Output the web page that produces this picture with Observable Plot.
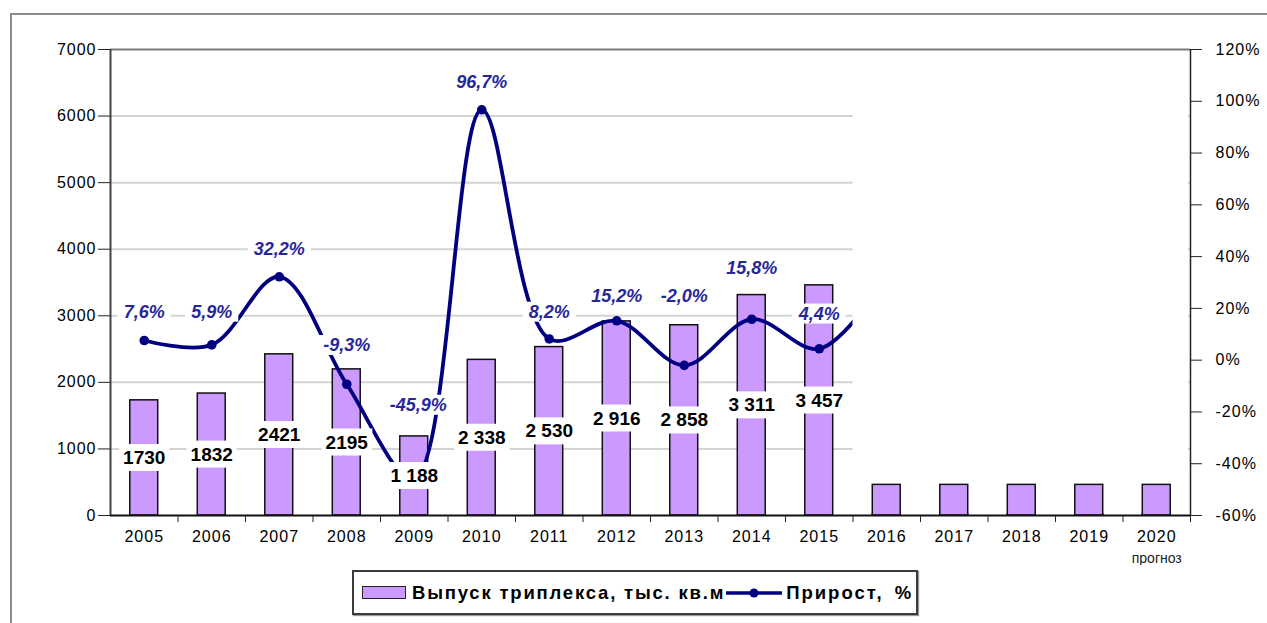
<!DOCTYPE html>
<html>
<head>
<meta charset="utf-8">
<script src="https://cdn.jsdelivr.net/npm/d3@7"></script>
<script src="https://cdn.jsdelivr.net/npm/@observablehq/plot@0.6"></script>
<style>
  body { margin:0; width:1267px; height:623px; overflow:hidden; position:relative; background:#fff;
         font-family:"Liberation Sans", Arial, sans-serif; }
  #frame { position:absolute; left:10px; top:13px; width:1300px; height:700px; border:2px solid #8c8c8c; pointer-events:none; }
  #legend { position:absolute; left:352px; top:570px; width:562px; height:41px; border:2px solid #3a3a3a;
            box-shadow: 1px 1px 1px #999; display:flex; align-items:center; font-weight:bold; font-size:18.5px; color:#000; background:#fff; white-space:nowrap; }
  #legend .sw { width:42px; height:11px; background:#cc99ff; border:1.5px solid #222; margin-left:8px; margin-right:6px; }
  #legend .tx { letter-spacing:1.8px; }
  #legend .tx2 { letter-spacing:2px; word-spacing:4px; }
  g[aria-label="y-axis tick label"] text, g[aria-label="x-axis tick label"] text { letter-spacing: 1px; }
</style>
</head>
<body>
<div id="chart"></div>
<div id="frame"></div>
<div id="legend">
  <span class="sw"></span><span class="tx">Выпуск триплекса, тыс. кв.м</span>
  <svg width="58" height="14" style="margin:0 3px 0 0"><line x1="1" y1="7" x2="57" y2="7" stroke="#000080" stroke-width="3.5"/><circle cx="29" cy="7" r="4.5" fill="#000080"/></svg>
  <span class="tx2">Прирост, %</span>
</div>
<script>
// ---- data ----
const years = [2005, 2006, 2007, 2008, 2009, 2010, 2011, 2012, 2013, 2014, 2015, 2016, 2017, 2018, 2019, 2020];
const output = [1730, 1832, 2421, 2195, 1188, 2338, 2530, 2916, 2858, 3311, 3457, 460, 460, 460, 460, 460];
const outputLabels = ["1730", "1832", "2421", "2195", "1 188", "2 338", "2 530", "2 916", "2 858", "3 311", "3 457", "", "", "", "", ""];
const growthYears = [2005, 2006, 2007, 2008, 2009, 2010, 2011, 2012, 2013, 2014, 2015, 2016];
const growth = [7.6, 5.9, 32.2, -9.3, -45.9, 96.7, 8.2, 15.2, -2.0, 15.8, 4.4, 32];
const growthLabels = ["7,6%", "5,9%", "32,2%", "-9,3%", "-45,9%", "96,7%", "8,2%", "15,2%", "-2,0%", "15,8%", "4,4%", ""];
const leftTicks = [0, 1000, 2000, 3000, 4000, 5000, 6000, 7000];
const pctTicks = [-60, -40, -20, 0, 20, 40, 60, 80, 100, 120];
const lastActualYear = 2015;
const forecastNote = "прогноз";

// ---- derived ----
const leftMax = 7000, pctMin = -60, pctMax = 120;
const toLeft = p => (p - pctMin) / (pctMax - pctMin) * leftMax;
const xMin = years[0] - 0.5, xMax = years[years.length - 1] + 0.5;
const bars = years.map((y, i) => ({year: y, value: output[i], label: outputLabels[i]}));
const pts = growthYears.map((y, i) => ({year: y, g: growth[i], label: growthLabels[i]}));
const boundaries = years.map(y => y + 0.5);
// label placement (pixels above the point), as in the original
const pctDy = {2005: -28, 2006: -33, 2007: -28, 2008: -39, 2009: -74, 2010: -28, 2011: -27, 2012: -25, 2013: -69, 2014: -51, 2015: -35, 2016: 0};
const pctDx = {2009: 4};

const navy = "#000080";
const barFill = "#cc99ff";

const chart = Plot.plot({
  width: 1267,
  height: 565,
  marginLeft: 110,
  marginRight: 77,
  marginTop: 49,
  marginBottom: 50,
  style: {fontFamily: "Liberation Sans, Arial, sans-serif", fontSize: "16px", background: "transparent", color: "#000"},
  x: {type: "linear", domain: [xMin, xMax], axis: null},
  y: {domain: [0, leftMax], axis: null},
  marks: [
    Plot.ruleY(leftTicks.filter(t => t > 0 && t < leftMax), {x1: xMin, x2: xMax, stroke: "#d4d4d4", strokeWidth: 2}),
    Plot.rectY(bars, {x1: d => d.year - 0.207, x2: d => d.year + 0.207, y: "value", fill: barFill, stroke: "#111", strokeWidth: 1.5}),
    Plot.line(pts, {x: "year", y: d => toLeft(d.g), curve: "catmull-rom", stroke: navy, strokeWidth: 3.8}),
    Plot.dot(pts, {x: "year", y: d => toLeft(d.g), r: 4.8, fill: navy}),
    // blank area of the original (right part of the plot)
    Plot.rect([{x1: lastActualYear + 0.5, x2: xMax, y1: 0, y2: leftMax}], {x1: "x1", x2: "x2", y1: "y1", y2: "y2", fill: "white", insetTop: 3, insetBottom: 2, insetRight: 2}),
    Plot.rectY(bars.filter(d => d.year > lastActualYear), {x1: d => d.year - 0.207, x2: d => d.year + 0.207, y: "value", fill: barFill, stroke: "#111", strokeWidth: 1.5}),
    // frame lines
    Plot.ruleY([leftMax], {stroke: "#7a7a7a", strokeWidth: 2}),
    Plot.ruleX([xMin], {stroke: "#444", strokeWidth: 2}),
    Plot.ruleX([xMax], {stroke: "#222", strokeWidth: 1.5}),
    Plot.ruleY([0], {stroke: "#111", strokeWidth: 2}),
    // axes
    Plot.axisY(leftTicks, {anchor: "left", tickSize: 12, tickPadding: 2, tickFormat: d => String(d), fontSize: 16, stroke: "#222"}),
    Plot.axisY(pctTicks.map(toLeft), {anchor: "right", tickSize: 11, tickPadding: 14, tickFormat: (v) => Math.round(v / leftMax * (pctMax - pctMin) + pctMin) + "%", fontSize: 16, stroke: "#222"}),
    Plot.axisX(years, {tickSize: 0, tickPadding: 15, tickFormat: d => String(d), fontSize: 16}),
    Plot.axisX(boundaries, {tickSize: 7, tickFormat: () => "", stroke: "#222"}),
    Plot.text([forecastNote], {x: years[years.length - 1], y: 0, dy: 43, text: d => d, fontSize: 14, fill: "#222"}),
    // labels
    Plot.text(bars.filter(d => d.label), {x: "year", y: d => d.value / 2, text: "label", fontSize: 19, fontWeight: "bold", fill: "#000"}),
    Plot.text(pts.filter(d => d.label), {x: "year", y: d => toLeft(d.g), text: "label", fontSize: 18, fontWeight: "bold", fontStyle: "italic", fill: "#27279a"})
  ]
});
document.getElementById("chart").appendChild(chart);

// white label boxes (as in the original), and per-year offsets of growth labels
function boxLabels(group, padX, padY, shift) {
  if (!group) return;
  Array.from(group.querySelectorAll("text")).forEach((t, i) => {
    if (shift) {
      const [dx, dy] = shift(i);
      const tr = t.getAttribute("transform") || "";
      t.setAttribute("transform", tr + ` translate(${dx},${dy})`);
    }
    const b = t.getBBox();
    const r = document.createElementNS("http://www.w3.org/2000/svg", "rect");
    r.setAttribute("x", b.x - padX);
    r.setAttribute("y", b.y - padY);
    r.setAttribute("width", b.width + 2 * padX);
    r.setAttribute("height", b.height + 2 * padY);
    r.setAttribute("fill", "white");
    const tr2 = t.getAttribute("transform");
    if (tr2) r.setAttribute("transform", tr2);
    t.parentNode.insertBefore(r, t);
  });
}
const textGroups = chart.querySelectorAll('g[aria-label="text"]');
const labeled = pts.filter(d => d.label);
boxLabels(textGroups[textGroups.length - 2], 4, 3);
boxLabels(textGroups[textGroups.length - 1], 6, 0, i => [pctDx[labeled[i].year] || 0, pctDy[labeled[i].year] || 0]);
</script>
</body>
</html>
